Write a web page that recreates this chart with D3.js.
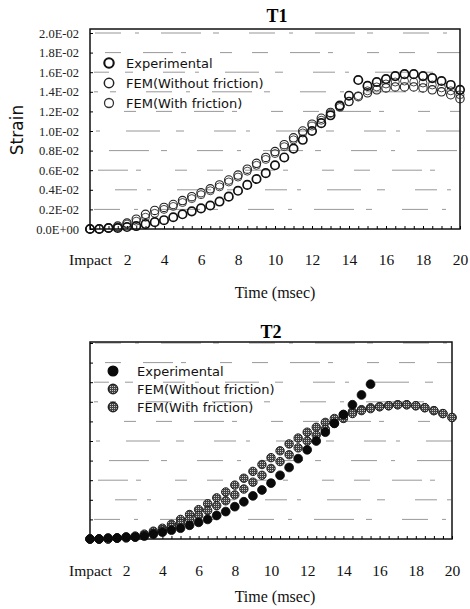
<!DOCTYPE html>
<html>
<head>
<meta charset="utf-8">
<script src="https://cdn.jsdelivr.net/npm/d3@7"></script>
<style>
  body { margin: 0; background: #fff; }
  svg { display: block; }
</style>
</head>
<body>
<div id="chart"></div>
<script>
// time in msec, every 0.5 msec
const time = [0,0.5,1,1.5,2,2.5,3,3.5,4,4.5,5,5.5,6,6.5,7,7.5,8,8.5,9,9.5,10,10.5,11,11.5,12,12.5,13,13.5,14,14.5,15,15.5,16,16.5,17,17.5,18,18.5,19,19.5,20];

// strain in units of 1E-02
// T1
const t1Experimental = [0,0,0.01,0.01,0.02,0.03,0.05,0.07,0.09,0.12,0.15,0.18,0.21,0.24,0.28,0.33,0.39,0.45,0.51,0.57,0.65,0.73,0.82,0.91,1.0,1.08,1.16,1.26,1.36,1.52,1.46,1.5,1.53,1.56,1.58,1.58,1.56,1.54,1.51,1.47,1.42];
const t1NoFriction = [0,0,0.01,0.03,0.06,0.1,0.15,0.19,0.22,0.25,0.29,0.33,0.37,0.41,0.45,0.5,0.55,0.61,0.67,0.73,0.79,0.86,0.93,1.0,1.07,1.13,1.19,1.25,1.3,1.35,1.39,1.42,1.44,1.45,1.45,1.45,1.44,1.42,1.4,1.37,1.33];
const t1Friction = [0,0,0.01,0.02,0.05,0.08,0.12,0.16,0.2,0.23,0.27,0.31,0.35,0.39,0.43,0.48,0.53,0.59,0.65,0.71,0.77,0.84,0.91,0.98,1.05,1.11,1.18,1.24,1.3,1.36,1.41,1.45,1.48,1.5,1.51,1.5,1.49,1.47,1.44,1.41,1.37];

// T2 (experimental record stops at 15.5 msec)
const t2Experimental = [0,0,0.01,0.01,0.02,0.02,0.03,0.05,0.07,0.09,0.11,0.14,0.17,0.2,0.24,0.28,0.33,0.38,0.44,0.5,0.57,0.65,0.73,0.82,0.91,1.0,1.09,1.18,1.27,1.37,1.47,1.58];
const t2NoFriction = [0,0,0,0.01,0.01,0.02,0.04,0.06,0.09,0.12,0.16,0.2,0.24,0.29,0.34,0.39,0.45,0.51,0.58,0.65,0.72,0.79,0.86,0.93,1.0,1.06,1.12,1.18,1.23,1.28,1.31,1.33,1.35,1.36,1.37,1.37,1.36,1.34,1.31,1.28,1.24];
const t2Friction = [0,0,0,0.01,0.02,0.03,0.05,0.08,0.11,0.15,0.2,0.25,0.3,0.36,0.42,0.48,0.55,0.62,0.69,0.76,0.83,0.9,0.97,1.03,1.09,1.14,1.19,1.23,1.27,1.3,1.32,1.34,1.35,1.36,1.37,1.37,1.36,1.34,1.31,1.28,1.24];

const xTicks = [0,2,4,6,8,10,12,14,16,18,20];
const yTicks = [0,0.2,0.4,0.6,0.8,1.0,1.2,1.4,1.6,1.8,2.0];
const legendLabels = ["Experimental", "FEM(Without friction)", "FEM(With friction)"];

const svg = d3.select("#chart").append("svg")
    .attr("width", 470)
    .attr("height", 609);

// speckled fill for the grey FEM dots
let pat = svg.append("defs").append("pattern")
    .attr("id", "speckle")
    .attr("patternUnits", "userSpaceOnUse")
    .attr("width", 2)
    .attr("height", 2);
pat.append("rect").attr("width", 2).attr("height", 2).attr("fill", "#444");
pat.append("rect").attr("width", 1).attr("height", 1).attr("fill", "#c8c8c8");

const serif = "'Liberation Serif', 'Times New Roman', serif";
const sans = "'DejaVu Sans', Verdana, sans-serif";

function drawPanel(opt) {
    let x = d3.scaleLinear().domain([0, 20]).range([opt.left, opt.right]);
    let y = d3.scaleLinear().domain([0, 2.0]).range([opt.bottom, opt.y2]);

    let g = svg.append("g");

    // broken, scanned-looking gridlines
    let dashes = ["26,14,4,22,40,12,6,30", "8,30,22,10,4,26,34,16", "16,22,30,8,5,34,12,20"];
    g.selectAll(".grid")
        .data(yTicks.slice(1))
        .join("line")
        .attr("x1", opt.left + 4)
        .attr("x2", opt.right)
        .attr("y1", d => y(d))
        .attr("y2", d => y(d))
        .attr("stroke", "#555")
        .attr("stroke-width", 1)
        .attr("stroke-dasharray", (d, i) => dashes[i % 3])
        .attr("stroke-dashoffset", (d, i) => i * 17)
        .attr("opacity", 0.6);

    // frame
    g.append("rect")
        .attr("x", opt.left)
        .attr("y", opt.top)
        .attr("width", opt.right - opt.left)
        .attr("height", opt.bottom - opt.top)
        .attr("fill", "none")
        .attr("stroke", "#111")
        .attr("stroke-width", 1.5);

    // y axis
    let yAxis = d3.axisLeft(y)
        .tickValues(yTicks)
        .tickSizeInner(-3)
        .tickSizeOuter(0)
        .tickPadding(11)
        .tickFormat(d => opt.yLabels ? d3.format(".1f")(d) + (d === 0 ? "E+00" : "E-02") : "");
    let ya = g.append("g")
        .attr("transform", "translate(" + opt.left + ",0)")
        .call(yAxis);
    ya.select(".domain").remove();
    ya.selectAll("text").style("font-family", serif).style("font-size", "12.5px").attr("fill", "#222");

    // minor x ticks
    let minor = d3.axisBottom(x)
        .tickValues(time)
        .tickSizeInner(-3)
        .tickSizeOuter(0)
        .tickFormat("");
    let xm = g.append("g")
        .attr("transform", "translate(0," + opt.bottom + ")")
        .call(minor);
    xm.select(".domain").remove();

    // x labels
    let xAxis = d3.axisBottom(x)
        .tickValues(xTicks)
        .tickSize(0)
        .tickPadding(opt.xPad)
        .tickFormat(d => d === 0 ? "Impact" : d);
    let xa = g.append("g")
        .attr("transform", "translate(0," + opt.bottom + ")")
        .call(xAxis);
    xa.select(".domain").remove();
    xa.selectAll("text").style("font-family", serif).style("font-size", "15.5px").attr("fill", "#111");

    g.append("text")
        .attr("x", 275)
        .attr("y", opt.xTitleY)
        .attr("text-anchor", "middle")
        .style("font-family", serif)
        .style("font-size", "16px")
        .attr("fill", "#111")
        .text("Time (msec)");

    g.append("text")
        .attr("x", opt.titleX)
        .attr("y", opt.titleY)
        .attr("text-anchor", "middle")
        .style("font-family", serif)
        .style("font-size", "18px")
        .style("font-weight", "bold")
        .text(opt.title);

    // points, drawn back to front
    opt.series.slice().reverse().forEach(function(s) {
        let pts = s.values.map((v, i) => ({t: time[i], v: v}));
        g.append("g").selectAll("circle")
            .data(pts)
            .join("circle")
            .attr("cx", d => x(d.t))
            .attr("cy", d => y(d.v))
            .attr("r", s.r)
            .attr("fill", s.fill)
            .attr("stroke", s.stroke)
            .attr("stroke-width", s.sw);
    });

    // legend
    opt.series.forEach(function(s, i) {
        let ly = opt.legendY + i * opt.legendGap;
        g.append("circle")
            .attr("cx", opt.legendX)
            .attr("cy", ly)
            .attr("r", s.r + 0.5)
            .attr("fill", s.fill)
            .attr("stroke", s.stroke)
            .attr("stroke-width", s.sw + 0.4);
        g.append("text")
            .attr("x", opt.legendX + opt.legendTextGap)
            .attr("y", ly + 4.5)
            .style("font-family", sans)
            .style("font-size", "13px")
            .attr("fill", "#111")
            .text(legendLabels[i]);
    });
}

drawPanel({
    left: 90, right: 460, top: 29, y2: 33, bottom: 229,
    yLabels: true, xPad: 25, xTitleY: 298,
    title: "T1", titleX: 277, titleY: 22,
    legendX: 109, legendY: 63, legendGap: 20, legendTextGap: 17,
    series: [
        {values: t1Experimental, r: 4.2, fill: "none", stroke: "#111", sw: 1.7},
        {values: t1NoFriction, r: 4.2, fill: "none", stroke: "#222", sw: 1.1},
        {values: t1Friction, r: 4, fill: "none", stroke: "#333", sw: 0.9}
    ]
});

svg.append("text")
    .attr("transform", "translate(23,130) rotate(-90)")
    .attr("text-anchor", "middle")
    .style("font-family", sans)
    .style("font-size", "17px")
    .attr("fill", "#111")
    .text("Strain");

drawPanel({
    left: 90, right: 452, top: 342, y2: 343, bottom: 539,
    yLabels: false, xPad: 26, xTitleY: 602,
    title: "T2", titleX: 271, titleY: 338,
    legendX: 113, legendY: 371, legendGap: 18, legendTextGap: 24,
    series: [
        {values: t2Experimental, r: 4.4, fill: "#0a0a0a", stroke: "#0a0a0a", sw: 0.8},
        {values: t2NoFriction, r: 4.2, fill: "url(#speckle)", stroke: "#222", sw: 1},
        {values: t2Friction, r: 4.2, fill: "url(#speckle)", stroke: "#222", sw: 1}
    ]
});
</script>
</body>
</html>
